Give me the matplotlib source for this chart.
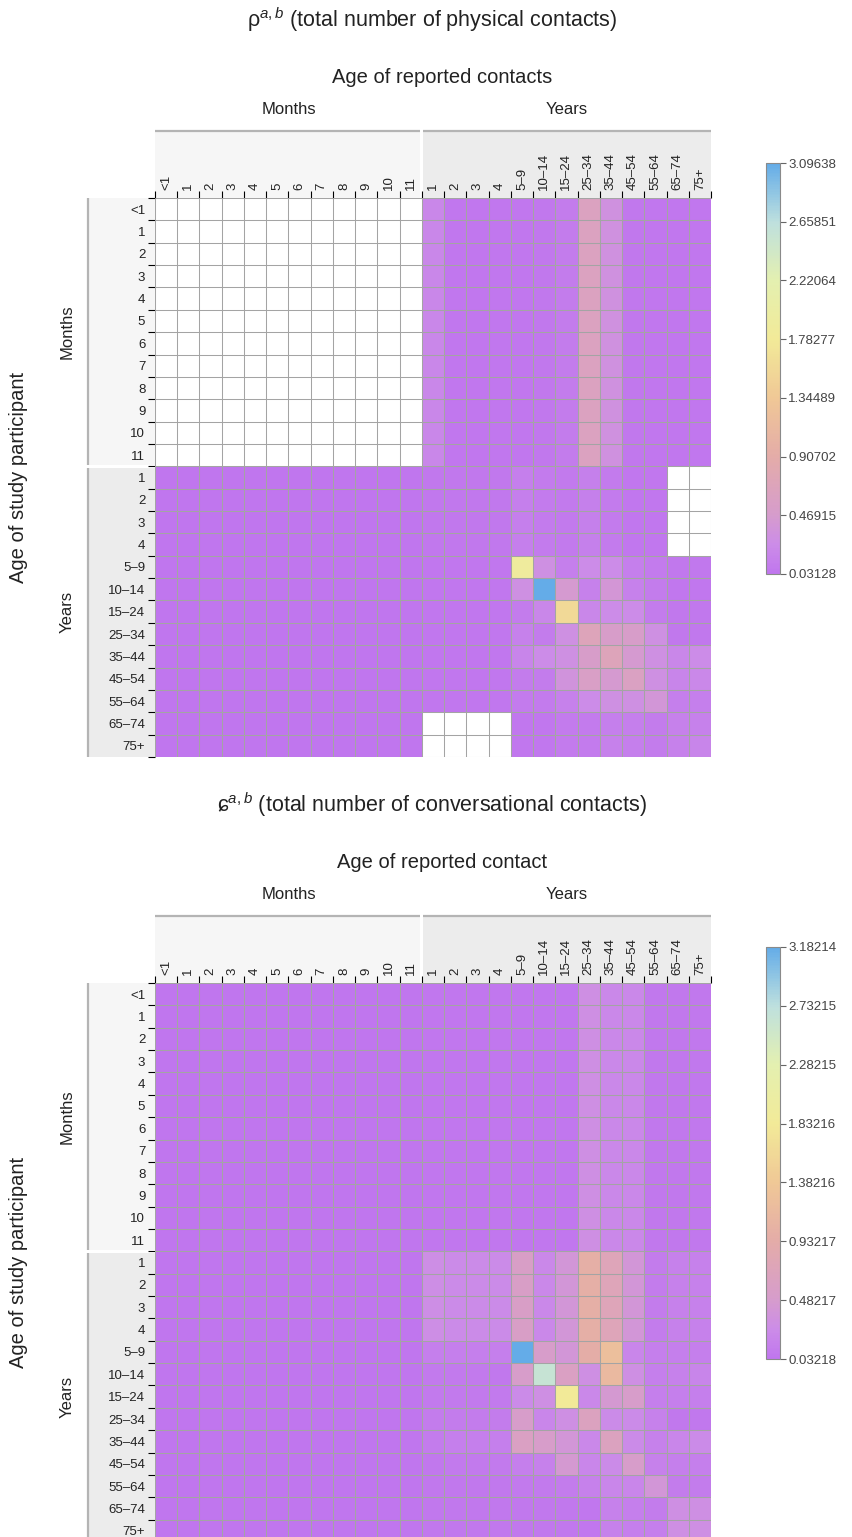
import numpy as np
import matplotlib.pyplot as plt
from matplotlib.colors import LinearSegmentedColormap
from matplotlib.patches import Rectangle

plt.rcParams['font.family'] = ['Liberation Sans', 'DejaVu Sans']
plt.rcParams['mathtext.fontset'] = 'custom'
plt.rcParams['mathtext.rm'] = 'Liberation Sans'
plt.rcParams['mathtext.it'] = 'Liberation Sans:italic'

month_labels = ['<1'] + [str(i) for i in range(1, 12)]
year_labels = ['1', '2', '3', '4', '5–9', '10–14', '15–24', '25–34',
               '35–44', '45–54', '55–64', '65–74', '75+']
age_labels = month_labels + year_labels
nan = np.nan

# ---- physical contacts ----
phys_month_month = nan                       # not collected
phys_month_year = [0.20, 0.05, 0.05, 0.05, 0.05, 0.06, 0.10, 0.62, 0.32, 0.06, 0.05, 0.05, 0.05]
phys_year_month = [0.04] * 13
phys_year_year = [
    [0.06, 0.06, 0.06, 0.06, 0.12, 0.08, 0.07, 0.13, 0.08, 0.05, 0.05, nan, nan],
    [0.06, 0.06, 0.06, 0.06, 0.12, 0.08, 0.07, 0.13, 0.08, 0.05, 0.05, nan, nan],
    [0.06, 0.06, 0.06, 0.06, 0.12, 0.08, 0.07, 0.13, 0.08, 0.05, 0.05, nan, nan],
    [0.06, 0.06, 0.06, 0.06, 0.12, 0.08, 0.07, 0.13, 0.08, 0.05, 0.05, nan, nan],
    [0.05, 0.05, 0.05, 0.05, 1.87, 0.30, 0.12, 0.25, 0.25, 0.12, 0.08, 0.06, 0.06],
    [0.05, 0.05, 0.05, 0.05, 0.30, 3.09638, 0.45, 0.15, 0.40, 0.15, 0.10, 0.05, 0.05],
    [0.05, 0.05, 0.05, 0.05, 0.10, 0.20, 1.56, 0.20, 0.25, 0.25, 0.10, 0.06, 0.06],
    [0.05, 0.05, 0.05, 0.05, 0.15, 0.10, 0.30, 0.70, 0.50, 0.50, 0.30, 0.06, 0.06],
    [0.05, 0.05, 0.05, 0.05, 0.18, 0.25, 0.30, 0.50, 0.70, 0.45, 0.30, 0.20, 0.25],
    [0.05, 0.05, 0.05, 0.05, 0.10, 0.10, 0.35, 0.55, 0.45, 0.60, 0.30, 0.18, 0.22],
    [0.05, 0.05, 0.05, 0.05, 0.08, 0.08, 0.15, 0.25, 0.30, 0.30, 0.38, 0.12, 0.12],
    [nan, nan, nan, nan, 0.05, 0.05, 0.08, 0.08, 0.12, 0.12, 0.10, 0.15, 0.15],
    [nan, nan, nan, nan, 0.05, 0.05, 0.08, 0.08, 0.15, 0.12, 0.10, 0.15, 0.18],
]
phys_ticks = [0.03128, 0.46915, 0.90702, 1.34489, 1.78277, 2.22064, 2.65851, 3.09638]

# ---- conversational contacts ----
conv_month_month = 0.04
conv_month_year = [0.05, 0.05, 0.05, 0.05, 0.05, 0.05, 0.05, 0.30, 0.22, 0.22, 0.06, 0.06, 0.06]
conv_year_month = [0.04] * 13
conv_year_year = [
    [0.28, 0.25, 0.25, 0.25, 0.55, 0.22, 0.40, 0.98, 0.73, 0.40, 0.10, 0.15, 0.15],
    [0.28, 0.25, 0.25, 0.25, 0.55, 0.22, 0.40, 0.98, 0.73, 0.40, 0.10, 0.15, 0.15],
    [0.28, 0.25, 0.25, 0.25, 0.55, 0.22, 0.40, 0.98, 0.73, 0.40, 0.10, 0.15, 0.15],
    [0.28, 0.25, 0.25, 0.25, 0.55, 0.22, 0.40, 0.98, 0.73, 0.40, 0.10, 0.15, 0.15],
    [0.12, 0.12, 0.12, 0.12, 3.18214, 0.50, 0.40, 0.95, 1.23, 0.20, 0.12, 0.12, 0.12],
    [0.08, 0.08, 0.08, 0.06, 0.50, 2.63, 0.60, 0.30, 1.15, 0.30, 0.12, 0.15, 0.18],
    [0.08, 0.08, 0.08, 0.08, 0.25, 0.30, 1.83, 0.22, 0.45, 0.50, 0.12, 0.12, 0.12],
    [0.10, 0.10, 0.10, 0.10, 0.50, 0.20, 0.30, 0.65, 0.25, 0.25, 0.15, 0.06, 0.06],
    [0.10, 0.12, 0.12, 0.12, 0.60, 0.50, 0.40, 0.22, 0.65, 0.25, 0.15, 0.20, 0.25],
    [0.06, 0.08, 0.08, 0.08, 0.12, 0.15, 0.45, 0.20, 0.25, 0.50, 0.15, 0.12, 0.12],
    [0.06, 0.06, 0.06, 0.06, 0.08, 0.08, 0.10, 0.15, 0.20, 0.20, 0.40, 0.10, 0.10],
    [0.06, 0.06, 0.06, 0.06, 0.06, 0.06, 0.06, 0.05, 0.15, 0.12, 0.10, 0.30, 0.30],
    [0.06, 0.06, 0.06, 0.06, 0.06, 0.06, 0.06, 0.05, 0.15, 0.12, 0.12, 0.30, 0.30],
]
conv_ticks = [0.03218, 0.48217, 0.93217, 1.38216, 1.83216, 2.28215, 2.73215, 3.18214]

cmap = LinearSegmentedColormap.from_list('contacts', [
    (0.0, '#c076ee'), (0.07, '#cc8ce8'), (1 / 7, '#d69ccc'), (2 / 7, '#e4aca8'),
    (3 / 7, '#f0c896'), (4 / 7, '#f2ea98'), (5 / 7, '#e4f0b0'), (6 / 7, '#bee0de'),
    (1.0, '#64ace8')])
cmap.set_bad('white')


def build_matrix(mm, my, ym, yy):
    nm, ny = len(month_labels), len(year_labels)
    m = np.full((nm + ny, nm + ny), np.nan)
    m[:nm, :nm] = mm
    m[:nm, nm:] = np.array(my)[None, :]
    m[nm:, :nm] = np.array(ym)[:, None]
    m[nm:, nm:] = np.array(yy)
    return m


W, H = 853, 1537
fig = plt.figure(figsize=(W / 100, H / 100), dpi=100)

CELL_W, CELL_H = 22.24, 22.36
GRID_LEFT = 155


def draw_panel(top, data, ticks, title, xlabel, cb_top, cb_bottom):
    n = data.shape[0]
    nm = len(month_labels)
    ax = fig.add_axes([GRID_LEFT / W, 1 - (top + n * CELL_H) / H,
                       n * CELL_W / W, n * CELL_H / H])
    edges = np.arange(n + 1)
    mesh = ax.pcolormesh(edges, edges, np.ma.masked_invalid(data),
                         cmap=cmap, vmin=ticks[0], vmax=ticks[-1])
    # cell borders on top of all faces
    ax.vlines(edges, 0, n, color='#a4a4a4', lw=0.75, snap=True)
    ax.hlines(edges, 0, n, color='#a4a4a4', lw=0.75, snap=True)
    ax.set_xlim(0, n)
    ax.set_ylim(n, 0)
    for s in ax.spines.values():
        s.set_visible(False)

    centers = np.arange(n) + 0.5
    ax.xaxis.tick_top()
    ax.set_xticks(centers, labels=age_labels, rotation=90)
    ax.set_yticks(centers, labels=age_labels)
    ax.set_xticks(edges, minor=True)
    ax.set_yticks(edges, minor=True)
    ax.tick_params(which='major', length=0, labelsize=9.5, colors='#222222')
    ax.tick_params(axis='x', which='major', pad=6)
    ax.tick_params(axis='y', which='major', pad=7)
    ax.tick_params(which='minor', length=5, width=0.8, color='black', direction='out')
    ax.tick_params(axis='x', which='both', top=True, bottom=False, labeltop=True, labelbottom=False)

    # header bands
    gap = 0.07
    band = 3
    for x0, w, fc in [(0, nm - gap, '#f6f6f6'), (nm + gap, n - nm - gap, '#ececec')]:
        ax.add_patch(Rectangle((x0, -band), w, band, fc=fc, ec='none', clip_on=False, zorder=0))
        ax.plot([x0, x0 + w], [-band, -band], color='#b4b4b4', lw=1.6, clip_on=False,
                solid_capstyle='butt')
        ax.add_patch(Rectangle((-band, x0), band, w, fc=fc, ec='none', clip_on=False, zorder=0))
        ax.plot([-band, -band], [x0, x0 + w], color='#b4b4b4', lw=1.6, clip_on=False,
                solid_capstyle='butt')

    lab = dict(fontsize=12, color='#222222', ha='center', va='center')
    ax.text(nm / 2, -band - 0.95, 'Months', **lab)
    ax.text(nm + (n - nm) / 2, -band - 0.95, 'Years', **lab)
    ax.text(-band - 0.95, nm / 2, 'Months', rotation=90, **lab)
    ax.text(-band - 0.95, nm + (n - nm) / 2, 'Years', rotation=90, **lab)
    ax.text(12.9, -5.37, xlabel, fontsize=14.5, color='#222222', ha='center', va='center')
    ax.text(-6.16, n / 2, 'Age of study participant', fontsize=14.5, color='#222222',
            rotation=90, ha='center', va='center')
    ax.text(12.45, -7.96, title, fontsize=15.5, color='#222222', ha='center', va='center')

    cax = fig.add_axes([766 / W, 1 - cb_bottom / H, 14 / W, (cb_bottom - cb_top) / H])
    cb = fig.colorbar(mesh, cax=cax, ticks=ticks)
    cb.ax.set_yticklabels([f'{t:.5f}' for t in ticks])
    cb.outline.set_edgecolor('#8a8a8a')
    cb.outline.set_linewidth(0.8)
    cax.tick_params(length=4, width=0.8, color='#666666', labelsize=9.5,
                    labelcolor='#444444', pad=2)


phys = build_matrix(phys_month_month, phys_month_year, phys_year_month, phys_year_year)
conv = build_matrix(conv_month_month, conv_month_year, conv_year_month, conv_year_year)

draw_panel(198, phys, phys_ticks, 'ρ$^{a,b}$ (total number of physical contacts)',
           'Age of reported contacts', 163, 574)
draw_panel(983, conv, conv_ticks, 'ɕ$^{a,b}$ (total number of conversational contacts)',
           'Age of reported contact', 947, 1359)

fig.savefig('out.png', dpi=100)
